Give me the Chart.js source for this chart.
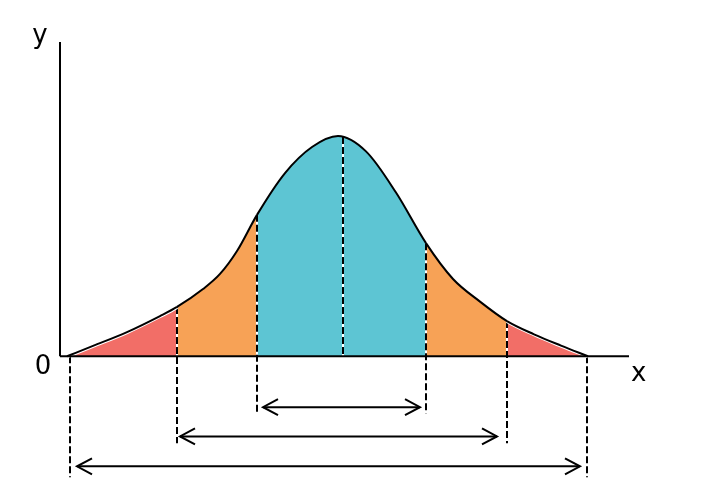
<!DOCTYPE html>
<html><head><meta charset="utf-8">
<script src="https://cdn.jsdelivr.net/npm/chart.js@4.4.0/dist/chart.umd.min.js"></script>
<style>html,body{margin:0;padding:0;background:#fff;}canvas{display:block;}</style>
</head><body>
<canvas id="c" width="705" height="503"></canvas>
<script>
// Curve samples (x, y)
const curveX = [0.7, 3.3, 6.7, 10.0, 11.7, 14.3, 16.0, 17.7, 19.7, 22.5, 25.2, 27.8, 30.6, 33.6, 36.6, 39.3, 42.0, 44.7, 47.4, 50.1, 52.8];
const curveY = [0, 3.3, 7.7, 12.8, 15.7, 21.4, 26.2, 33.5, 45.0, 58.3, 66.6, 70.1, 65.2, 52.1, 36.0, 24.6, 17.4, 11.2, 7.0, 3.4, 0];
// Region boundaries (dashed lines)
const boundaryX = [1.0, 11.7, 19.7, 28.3, 36.6, 44.7, 52.7];
const boundaryTop = [0, 15.7, 45.0, 69.8, 36.0, 11.2, 0];
const boundaryBottom = [-38.5, -27.7, -18.2, 0, -18.2, -27.7, -38.5];
// Double-headed arrows
const arrowY = [-16.2, -25.5, -35.0];
const arrowFrom = [20.3, 12.0, 1.7];
const arrowTo = [36.0, 43.7, 52.0];
// Axis extents
const xAxisEnd = 56.9;
const yAxisEnd = 100;
const yMin = -40;
const axisLabels = { y: 'y', x: 'x', origin: '0' };
const colors = { outer: '#F26E67', middle: '#F7A256', inner: '#5DC5D3' };

function regionColor(xm) {
  if (xm < boundaryX[1] || xm > boundaryX[5]) return colors.outer;
  if (xm < boundaryX[2] || xm > boundaryX[4]) return colors.middle;
  return colors.inner;
}
function isOuter(xm) { return xm < boundaryX[1] || xm > boundaryX[5]; }

const curveData = curveX.map((x, i) => ({ x, y: curveY[i] }));
const datasets = [];

// Filled curve
datasets.push({
  data: curveData, order: 1, borderColor: '#000', borderWidth: 2,
  fill: 'origin', backgroundColor: colors.inner,
  cubicInterpolationMode: 'monotone', pointRadius: 0, clip: false,
  segment: {
    backgroundColor: ctx => regionColor((ctx.p0.parsed.x + ctx.p1.parsed.x) / 2)
  }
});
// Thin white halo under the curve in the outer regions
datasets.push({
  data: curveData, order: 2, borderWidth: 4, borderColor: 'rgba(0,0,0,0)',
  fill: false, cubicInterpolationMode: 'monotone', pointRadius: 0, clip: false,
  segment: {
    borderColor: ctx => isOuter((ctx.p0.parsed.x + ctx.p1.parsed.x) / 2) ? '#fff' : 'rgba(0,0,0,0)'
  }
});
// Dashed boundary lines (white under, black dashes over)
boundaryX.forEach((bx, i) => {
  const d = [{ x: bx, y: boundaryTop[i] }, { x: bx, y: boundaryBottom[i] }];
  datasets.push({ data: d, order: 4, borderColor: '#fff', borderWidth: 2, pointRadius: 0, fill: false, clip: false });
  datasets.push({ data: d, order: 3, borderColor: '#000', borderWidth: 2, borderDash: [7, 3], pointRadius: 0, fill: false, clip: false });
});
// Arrows
arrowY.forEach((ay, i) => {
  datasets.push({ data: [{ x: arrowFrom[i], y: ay }, { x: arrowTo[i], y: ay }], order: 3, borderColor: '#000', borderWidth: 2, pointRadius: 0, fill: false, clip: false, arrow: true });
});
// Axes
datasets.push({ data: [{ x: 0, y: 0 }, { x: xAxisEnd, y: 0 }], order: 0, borderColor: '#000', borderWidth: 2, pointRadius: 0, fill: false, clip: false });
datasets.push({ data: [{ x: 0, y: 0 }, { x: 0, y: yAxisEnd }], order: 0, borderColor: '#000', borderWidth: 2, pointRadius: 0, fill: false, clip: false });

const decorations = {
  id: 'decorations',
  afterDatasetsDraw(chart) {
    const ctx = chart.ctx;
    const xs = chart.scales.x, ys = chart.scales.y;
    ctx.save();
    ctx.strokeStyle = '#000';
    ctx.lineWidth = 2;
    chart.data.datasets.forEach((ds, i) => {
      if (!ds.arrow) return;
      const pts = chart.getDatasetMeta(i).data;
      const a = pts[0], b = pts[pts.length - 1];
      const L = 15, W = 8;
      ctx.beginPath();
      ctx.moveTo(a.x + L, a.y - W); ctx.lineTo(a.x, a.y); ctx.lineTo(a.x + L, a.y + W);
      ctx.moveTo(b.x - L, b.y - W); ctx.lineTo(b.x, b.y); ctx.lineTo(b.x - L, b.y + W);
      ctx.stroke();
    });
    const x0 = xs.getPixelForValue(0), y0 = ys.getPixelForValue(0);
    const yTop = ys.getPixelForValue(yAxisEnd), xEnd = xs.getPixelForValue(xAxisEnd);
    ctx.fillStyle = '#000';
    ctx.font = '26px "DejaVu Sans"';
    ctx.textBaseline = 'alphabetic';
    ctx.textAlign = 'center';
    ctx.fillText(axisLabels.y, x0 - 20, yTop + 1);
    ctx.fillText(axisLabels.origin, x0 - 17, y0 + 18);
    ctx.textAlign = 'left';
    ctx.fillText(axisLabels.x, xEnd + 2, y0 + 25);
    ctx.restore();
  }
};

new Chart(document.getElementById('c'), {
  type: 'line',
  data: { datasets },
  options: {
    responsive: false, animation: false,
    layout: { padding: { left: 60, right: 76, top: 42, bottom: 21 } },
    scales: {
      x: { type: 'linear', min: 0, max: xAxisEnd, display: false },
      y: { type: 'linear', min: yMin, max: yAxisEnd, display: false }
    },
    plugins: { legend: { display: false }, tooltip: { enabled: false }, filler: { drawTime: 'beforeDatasetsDraw' } },
    elements: { line: { borderCapStyle: 'butt' } }
  },
  plugins: [decorations]
});
</script>
</body></html>
